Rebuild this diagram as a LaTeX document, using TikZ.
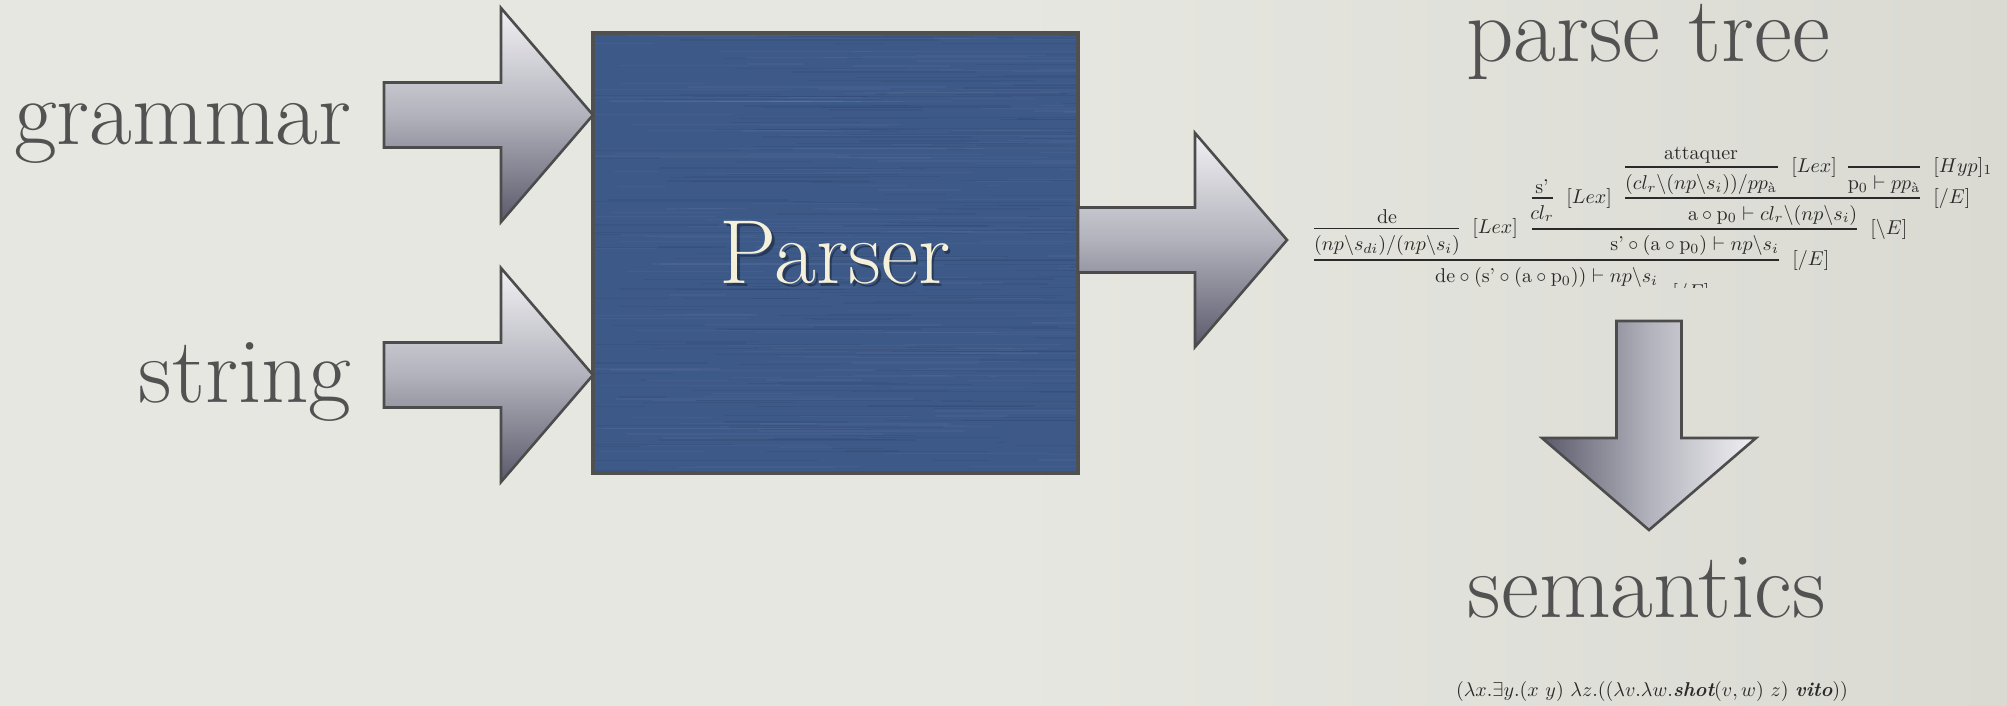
\documentclass[tikz,border=0pt]{standalone}
\usepackage{amsmath}
\definecolor{bgleft}{HTML}{E7E7E1}
\definecolor{bgright}{HTML}{DADAD3}
\definecolor{txtgray}{HTML}{525252}
\definecolor{prf}{HTML}{2A2A2A}
\definecolor{boxblue}{RGB}{61,89,136}
\definecolor{boxline}{HTML}{505050}
\definecolor{cream}{HTML}{F4F0DA}
\definecolor{arrowline}{HTML}{4C4C4C}
\definecolor{arlight}{HTML}{F1F1F4}
\definecolor{armid}{HTML}{B2B2BC}
\definecolor{ardark}{HTML}{5A5A6C}
\begin{document}
\begin{tikzpicture}[x=0.5pt,y=-0.5pt,
  bigtext/.style={font=\fontsize{46.5}{54}\selectfont, text=txtgray, inner sep=0pt},
  prooftext/.style={inner sep=0pt, text=prf, anchor=base},
  prooflabel/.style={inner sep=0pt, text=prf, anchor=west},
  rule/.style={draw=prf, line width=0.55pt},
  streaklight/.style={draw=white, opacity=0.035, line width=0.6pt},
  streakdark/.style={draw=black, opacity=0.05, line width=0.6pt},
  blockarrow/.style={draw=arrowline, line width=1.3pt, line join=miter,
     top color=arlight, bottom color=ardark, middle color=armid},
  blockarrowdown/.style={draw=arrowline, line width=1.3pt, line join=miter,
     left color=ardark, right color=arlight, middle color=armid}]
\useasboundingbox (0,0) rectangle (2007,706);
\fill[left color=bgleft, right color=bgright, middle color=bgleft] (0,0) rectangle (2007,706);

% Parser box
\node[fill=boxblue, minimum width=242.5pt,
      minimum height=220pt, inner sep=0pt] (parser) at (835.5,253) {};
\begin{scope}
\clip (parser.south west) rectangle (parser.north east);
\pgfmathsetseed{7}
\foreach \i in {1,...,200}{
  \pgfmathsetmacro\yy{35+rnd*438}
  \pgfmathsetmacro\xa{560+rnd*520}
  \pgfmathsetmacro\ll{40+rnd*260}
  \draw[streaklight] (\xa,\yy) -- ++(\ll,0);
}
\foreach \i in {1,...,200}{
  \pgfmathsetmacro\yy{35+rnd*438}
  \pgfmathsetmacro\xa{560+rnd*520}
  \pgfmathsetmacro\ll{40+rnd*260}
  \draw[streakdark] (\xa,\yy) -- ++(\ll,0);
}
\end{scope}
\draw[draw=boxline, line width=2pt] (parser.south west) rectangle (parser.north east);
\node[font=\fontsize{45.5}{52}\selectfont, text=black, opacity=0.35, anchor=base, inner sep=0pt]
      (parsershadow) at (837.5,286) {Parser};
\node[font=\fontsize{45.5}{52}\selectfont, text=cream, anchor=base, inner sep=0pt]
      (parserlabel) at (835,283) {Parser};

% labels
\node[bigtext, anchor=base east] (grammar) at (352,145) {grammar};
\node[bigtext, anchor=base east] (string) at (352,402) {string};
\node[bigtext, anchor=base] (parsetree) at (1648,62) {parse tree};
\node[bigtext, anchor=base] (semantics) at (1647,617) {semantics};

% block arrows
\coordinate (gtip) at (593,115);
\coordinate (stip) at (593,375);
\coordinate (ptip) at (1287,240);
\coordinate (dtip) at (1649,530);
\draw[blockarrow] (gtip) -- ++(-92,-107) -- ++(0,74.5) -- ++(-117,0) -- ++(0,65)
      -- ++(117,0) -- ++(0,74.5) -- cycle;
\draw[blockarrow] (stip) -- ++(-92,-107) -- ++(0,74.5) -- ++(-117,0) -- ++(0,65)
      -- ++(117,0) -- ++(0,74.5) -- cycle;
\draw[blockarrow] (ptip) -- ++(-92,-107) -- ++(0,74.5) -- ++(-117,0) -- ++(0,65)
      -- ++(117,0) -- ++(0,74.5) -- cycle;
\draw[blockarrowdown] (dtip) -- ++(-107,-92) -- ++(74.5,0) -- ++(0,-117) -- ++(65,0)
      -- ++(0,117) -- ++(74.5,0) -- cycle;

% proof tree
\begin{scope}
\clip (1290,120) rectangle (2007,287);
\node[prooftext] (att) at (1701,159) {attaquer};
\draw[rule] (1625,167) -- (1778,167);
\node[prooftext] (attc) at (1701,189.5) {$(cl_r\backslash(np\backslash s_i))/pp_{\text{à}}$};
\node[prooflabel] (lex1) at (1791,167) {$[Lex]$};
\draw[rule] (1848,167) -- (1920,167);
\node[prooftext] (hypc) at (1884,189.5) {$\mathrm{p}_0\vdash pp_{\text{à}}$};
\node[prooflabel] (hyp) at (1933,167) {$[Hyp]_1$};
\draw[rule] (1625,198) -- (1920,198);
\node[prooflabel] (e1) at (1933,198) {$[/E]$};
\node[prooftext] (apc) at (1772.5,220) {$\mathrm{a}\circ\mathrm{p}_0\vdash cl_r\backslash(np\backslash s_i)$};
\node[prooftext] (sp) at (1542,193.5) {s'};
\draw[rule] (1532,198) -- (1553,198);
\node[prooftext] (clr) at (1542,219) {$cl_r$};
\node[prooflabel] (lex2) at (1566,198) {$[Lex]$};
\draw[rule] (1532,229) -- (1857,229);
\node[prooflabel] (e2) at (1870,229) {$[\backslash E]$};
\node[prooftext] (sapc) at (1694.5,250) {$\text{s'}\circ(\mathrm{a}\circ\mathrm{p}_0)\vdash np\backslash s_i$};
\node[prooftext] (de) at (1387,223) {de};
\draw[rule] (1314,228.5) -- (1459,228.5);
\node[prooftext] (dec) at (1387,250.5) {$(np\backslash s_{di})/(np\backslash s_i)$};
\node[prooflabel] (lex3) at (1472,228.5) {$[Lex]$};
\draw[rule] (1314,260) -- (1779,260);
\node[prooflabel] (e3) at (1792,260) {$[/E]$};
\node[prooftext] (final) at (1546.5,282) {$\mathrm{de}\circ(\text{s'}\circ(\mathrm{a}\circ\mathrm{p}_0))\vdash np\backslash s_i$};
\node[prooflabel] (e4) at (1672,293) {$[/E]$};
\end{scope}

% semantics formula
\node[prooftext] (sem) at (1652,696)
  {$(\lambda x.\exists y.(x\ y)\ \lambda z.((\lambda v.\lambda w.\text{\bfseries\itshape shot}(v,w)\ z)\ \text{\bfseries\itshape vito}))$};
\end{tikzpicture}
\end{document}
